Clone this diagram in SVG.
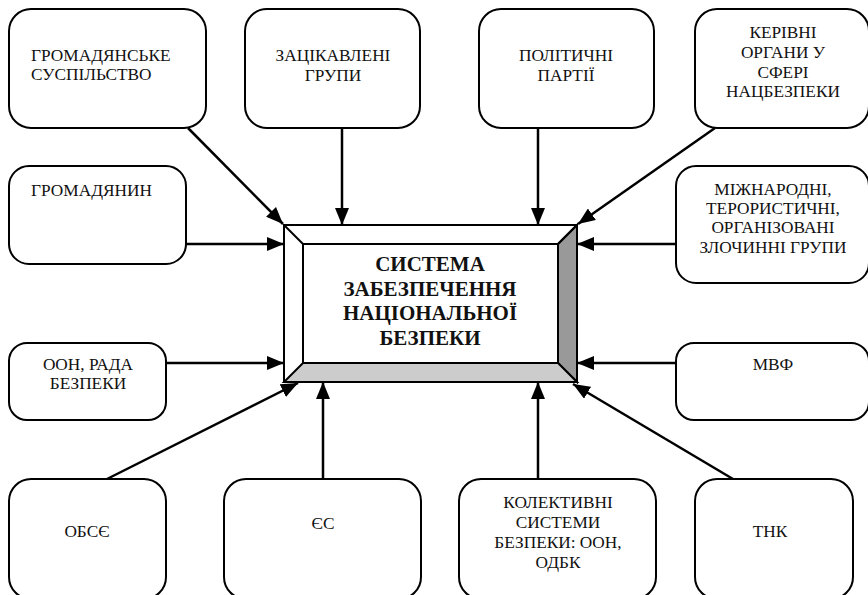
<svg xmlns="http://www.w3.org/2000/svg" width="868" height="595" viewBox="0 0 868 595">
<defs>
<marker id="ah" markerUnits="userSpaceOnUse" markerWidth="18" markerHeight="14" refX="17" refY="7" orient="auto">
<path d="M0,0 L17,7 L0,14 Z" fill="#000"/>
</marker>
<style>
.box{fill:#fff;stroke:#000;stroke-width:2}
.t{font-size:17.3px;fill:#111}
.c{text-anchor:middle}
.conn line{stroke:#000;stroke-width:2.5;marker-end:url(#ah)}
.bev{stroke:#000;stroke-width:2;stroke-linejoin:miter}
.main{font-size:21px;font-weight:bold;text-anchor:middle;fill:#111}
</style>
</defs>
<rect width="868" height="595" fill="#fff"/>

<g font-family="Liberation Serif, Times New Roman, serif">
<g id="n-hromadianske">
<rect class="box" x="9" y="9" width="197" height="119" rx="22"/>
<text class="t" x="31" y="61">ГРОМАДЯНСЬКЕ</text>
<text class="t" x="31" y="80">СУСПІЛЬСТВО</text>
</g>
<g id="n-zatsikavleni">
<rect class="box" x="245" y="9" width="175" height="119" rx="22"/>
<text class="t c" x="333" y="61">ЗАЦІКАВЛЕНІ</text>
<text class="t c" x="333" y="81">ГРУПИ</text>
</g>
<g id="n-politychni">
<rect class="box" x="479" y="9" width="175" height="119" rx="22"/>
<text class="t c" x="566" y="61">ПОЛІТИЧНІ</text>
<text class="t c" x="566" y="81">ПАРТІЇ</text>
</g>
<g id="n-kerivni">
<rect class="box" x="695" y="9" width="174" height="119" rx="22"/>
<text class="t c" x="783" y="38">КЕРІВНІ</text>
<text class="t c" x="783" y="58">ОРГАНИ У</text>
<text class="t c" x="783" y="78">СФЕРІ</text>
<text class="t c" x="783" y="97">НАЦБЕЗПЕКИ</text>
</g>
<g id="n-hromadianyn">
<rect class="box" x="9" y="166" width="177" height="98" rx="20"/>
<text class="t" x="31" y="196">ГРОМАДЯНИН</text>
</g>
<g id="n-mizhnarodni">
<rect class="box" x="676" y="166" width="193" height="117" rx="20"/>
<text class="t c" x="773" y="195">МІЖНАРОДНІ,</text>
<text class="t c" x="773" y="214">ТЕРОРИСТИЧНІ,</text>
<text class="t c" x="773" y="233">ОРГАНІЗОВАНІ</text>
<text class="t c" x="773" y="253">ЗЛОЧИННІ ГРУПИ</text>
</g>
<g id="n-oon">
<rect class="box" x="9" y="343" width="157" height="77" rx="18"/>
<text class="t c" x="88" y="370">ООН, РАДА</text>
<text class="t c" x="88" y="389">БЕЗПЕКИ</text>
</g>
<g id="n-mvf">
<rect class="box" x="676" y="343" width="193" height="77" rx="18"/>
<text class="t c" x="773" y="370">МВФ</text>
</g>
<g id="n-obsie">
<rect class="box" x="9" y="479" width="157" height="120" rx="22"/>
<text class="t c" x="87" y="537">ОБСЄ</text>
</g>
<g id="n-yes">
<rect class="box" x="224" y="479" width="197" height="120" rx="22"/>
<text class="t c" x="323" y="529">ЄС</text>
</g>
<g id="n-kolektyvni">
<rect class="box" x="459" y="479" width="197" height="120" rx="22"/>
<text class="t c" x="558" y="508">КОЛЕКТИВНІ</text>
<text class="t c" x="558" y="528">СИСТЕМИ</text>
<text class="t c" x="558" y="548">БЕЗПЕКИ: ООН,</text>
<text class="t c" x="558" y="568">ОДБК</text>
</g>
<g id="n-tnk">
<rect class="box" x="695" y="479" width="158" height="120" rx="22"/>
<text class="t c" x="770" y="537">ТНК</text>
</g>

<g id="n-system">
<rect x="284" y="225" width="293" height="157" fill="#fff" class="bev"/>
<polygon class="bev" points="577,225 577,382 558,363 558,244" fill="#999"/>
<polygon class="bev" points="284,382 577,382 558,363 303,363" fill="#ccc"/>
<line class="bev" x1="284" y1="225" x2="303" y2="244"/>
<line class="bev" x1="577" y1="225" x2="558" y2="244"/>
<rect x="303" y="244" width="255" height="119" fill="#fff" class="bev"/>
<text class="main" x="430" y="271">СИСТЕМА</text>
<text class="main" x="430" y="296">ЗАБЕЗПЕЧЕННЯ</text>
<text class="main" x="430" y="320">НАЦІОНАЛЬНОЇ</text>
<text class="main" x="430" y="345">БЕЗПЕКИ</text>
</g>
</g>

<g id="connectors" class="conn">
<line x1="188" y1="128" x2="283" y2="224"/>
<line x1="342" y1="128" x2="342" y2="225"/>
<line x1="538" y1="128" x2="538" y2="225"/>
<line x1="715" y1="128" x2="578" y2="224"/>
<line x1="186" y1="244" x2="284" y2="244"/>
<line x1="676" y1="244" x2="577" y2="244"/>
<line x1="166" y1="363" x2="284" y2="363"/>
<line x1="676" y1="363" x2="577" y2="363"/>
<line x1="107" y1="479" x2="298" y2="383"/>
<line x1="323" y1="479" x2="323" y2="382"/>
<line x1="538" y1="479" x2="538" y2="382"/>
<line x1="733" y1="479" x2="573" y2="384"/>
</g>
</svg>
